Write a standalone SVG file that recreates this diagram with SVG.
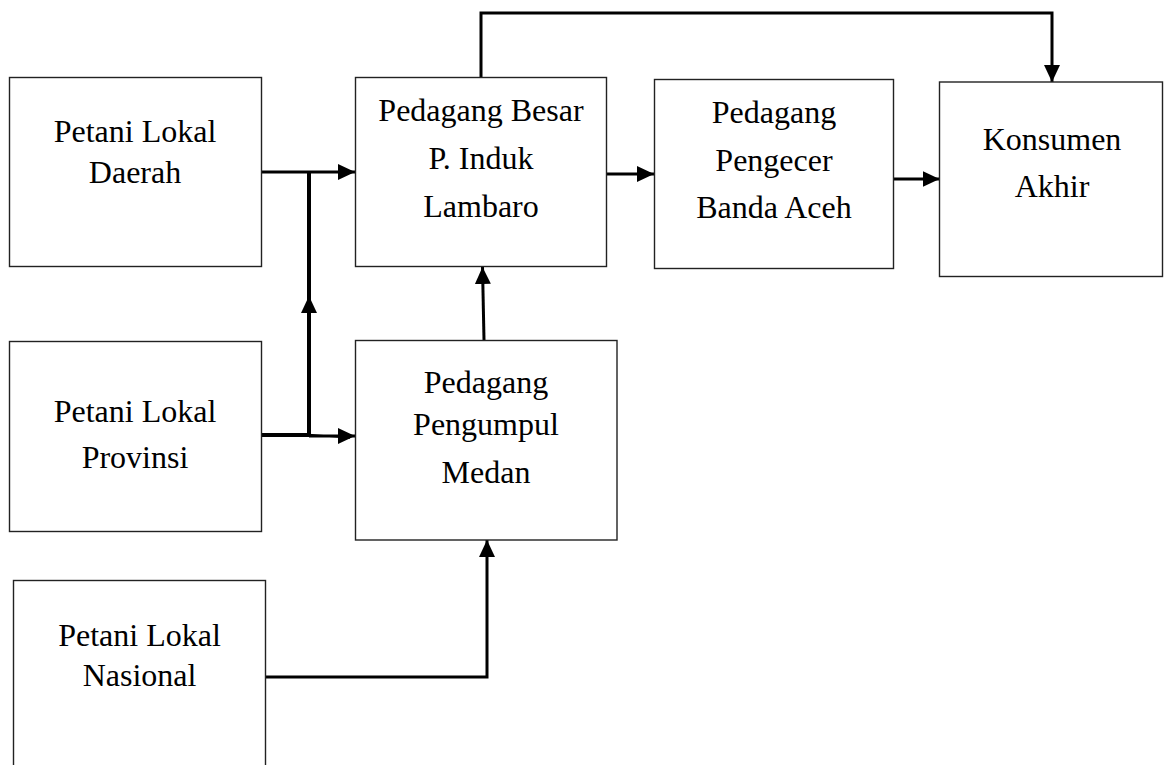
<svg xmlns="http://www.w3.org/2000/svg" width="1166" height="765" viewBox="0 0 1166 765">
<style>
.box{fill:#fff;stroke:#222;stroke-width:1.4}
.lbl{font-family:"Liberation Serif","Times New Roman",serif;font-size:32px;fill:#000;text-anchor:middle}
.con{fill:none;stroke:#000;stroke-width:3}
.thick{stroke-width:4}
.thin{stroke-width:1.5}
</style>
<defs>
<marker id="ah" markerUnits="userSpaceOnUse" markerWidth="18" markerHeight="16" refX="17" refY="8" orient="auto">
<path d="M0,0 L17,8 L0,16 z" fill="#000"/>
</marker>
</defs>
<rect width="1166" height="765" fill="#fff"/>
<g id="connectors">
<path class="con" d="M262,172 H355" marker-end="url(#ah)"/>
<path class="con thick" d="M309,435 V296" marker-end="url(#ah)"/>
<path class="con thick" d="M309,297 V172"/>
<path class="con thick" d="M262,435 H309"/>
<path class="con" d="M309,436 H355" marker-end="url(#ah)"/>
<path class="con thin" d="M309,434.5 L350,438"/>
<path class="con" d="M484,340 L482.5,267" marker-end="url(#ah)"/>
<path class="con" d="M607,174 H654" marker-end="url(#ah)"/>
<path class="con" d="M893,179 H939.5" marker-end="url(#ah)"/>
<path class="con" d="M481,77 V13 H1052 V82" marker-end="url(#ah)"/>
<path class="con" d="M266,677 H487 V540" marker-end="url(#ah)"/>
</g>
<g id="petani-daerah">
<rect class="box" x="9.5" y="77.5" width="252" height="189"/>
<text class="lbl" x="135" y="142">Petani Lokal</text>
<text class="lbl" x="135" y="183">Daerah</text>
</g>
<g id="pedagang-besar">
<rect class="box" x="355.5" y="77.5" width="251" height="189"/>
<text class="lbl" x="481" y="121">Pedagang Besar</text>
<text class="lbl" x="481" y="169">P. Induk</text>
<text class="lbl" x="481" y="217">Lambaro</text>
</g>
<g id="pedagang-pengecer">
<rect class="box" x="654.5" y="79.5" width="239" height="189"/>
<text class="lbl" x="774" y="123">Pedagang</text>
<text class="lbl" x="774" y="171">Pengecer</text>
<text class="lbl" x="774" y="218">Banda Aceh</text>
</g>
<g id="konsumen">
<rect class="box" x="939.5" y="82" width="223" height="194.5"/>
<text class="lbl" x="1052" y="149.5">Konsumen</text>
<text class="lbl" x="1052" y="196.5">Akhir</text>
</g>
<g id="petani-provinsi">
<rect class="box" x="9.5" y="341.5" width="252" height="190"/>
<text class="lbl" x="135" y="422">Petani Lokal</text>
<text class="lbl" x="135" y="468">Provinsi</text>
</g>
<g id="pedagang-pengumpul">
<rect class="box" x="355.5" y="340.5" width="261.5" height="199.5"/>
<text class="lbl" x="486" y="393">Pedagang</text>
<text class="lbl" x="486" y="435">Pengumpul</text>
<text class="lbl" x="486" y="483">Medan</text>
</g>
<g id="petani-nasional">
<rect class="box" x="13.5" y="580.5" width="252" height="200"/>
<text class="lbl" x="139.5" y="646">Petani Lokal</text>
<text class="lbl" x="139.5" y="686">Nasional</text>
</g>
</svg>
